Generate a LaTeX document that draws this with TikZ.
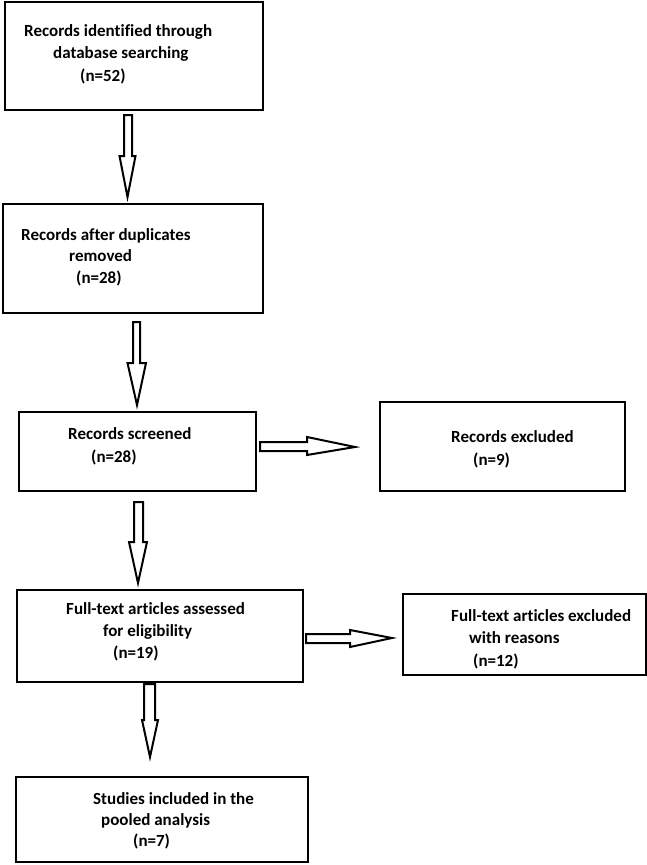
\documentclass[tikz,border=0pt]{standalone}
\usepackage{fontspec}
\setmainfont{Carlito}[Ligatures=NoCommon]
\begin{document}
\begin{tikzpicture}[x=1pt,y=-1pt,
  box/.style={draw, line width=2.6pt, rectangle, inner sep=0pt},
  lbl/.style={anchor=base west, inner sep=0pt, font=\bfseries\fontsize{17}{20}\selectfont},
  blk/.style={draw, line width=2pt, fill=white, line join=miter}]
\useasboundingbox (0,0) rectangle (647,865);
% boxes
\node[box, minimum width=258pt, minimum height=108pt] (b1) at (134,56) {};
\node[box, minimum width=260pt, minimum height=109pt] (b2) at (133,258.5) {};
\node[box, minimum width=237pt, minimum height=79pt] (b3) at (137.5,451.5) {};
\node[box, minimum width=245pt, minimum height=89pt] (b4) at (502.5,446.5) {};
\node[box, minimum width=286pt, minimum height=92pt] (b5) at (160,636) {};
\node[box, minimum width=243pt, minimum height=81pt] (b6) at (524.5,634.5) {};
\node[box, minimum width=292pt, minimum height=85pt] (b7) at (162,819.5) {};
% texts
\node[lbl] (t1a) at (24,36) {Records identified through};
\node[lbl] (t1b) at (53,58) {database searching};
\node[lbl] (t1c) at (80,81) {(n=52)};
\node[lbl] (t2a) at (21,240) {Records after duplicates};
\node[lbl] (t2b) at (69,261) {removed};
\node[lbl] (t2c) at (76,283) {(n=28)};
\node[lbl] (t3a) at (68,439) {Records screened};
\node[lbl] (t3b) at (91,462) {(n=28)};
\node[lbl] (t4a) at (451,442) {Records excluded};
\node[lbl] (t4b) at (473,465) {(n=9)};
\node[lbl] (t5a) at (66,614) {Full-text articles assessed};
\node[lbl] (t5b) at (103,636) {for eligibility};
\node[lbl] (t5c) at (113,658) {(n=19)};
\node[lbl] (t6a) at (451,621) {Full-text articles excluded};
\node[lbl] (t6b) at (469,643) {with reasons};
\node[lbl] (t6c) at (473,666) {(n=12)};
\node[lbl] (t7a) at (93,804) {Studies included in the};
\node[lbl] (t7b) at (101,825) {pooled analysis};
\node[lbl] (t7c) at (133,846) {(n=7)};
% block arrows
\draw[blk] (124,115) -- (132,115) -- (132,156) -- (135.5,156) -- (127.5,197) -- (119.5,156) -- (124,156) -- cycle;
\draw[blk] (133,322) -- (140,322) -- (140,363) -- (146,363) -- (137,405) -- (127.5,363) -- (133,363) -- cycle;
\draw[blk] (134,502) -- (143,502) -- (143,542) -- (147,542) -- (138,583) -- (129,542) -- (134,542) -- cycle;
\draw[blk] (144,684) -- (155,684) -- (155,720) -- (158,720) -- (150,757) -- (142,720) -- (144,720) -- cycle;
\draw[blk] (260,442) -- (307,442) -- (307,437) -- (355,447) -- (307,455) -- (307,451) -- (260,451) -- cycle;
\draw[blk] (306,634) -- (350,634) -- (350,630) -- (392,638) -- (350,647) -- (350,643) -- (306,643) -- cycle;
\end{tikzpicture}
\end{document}
